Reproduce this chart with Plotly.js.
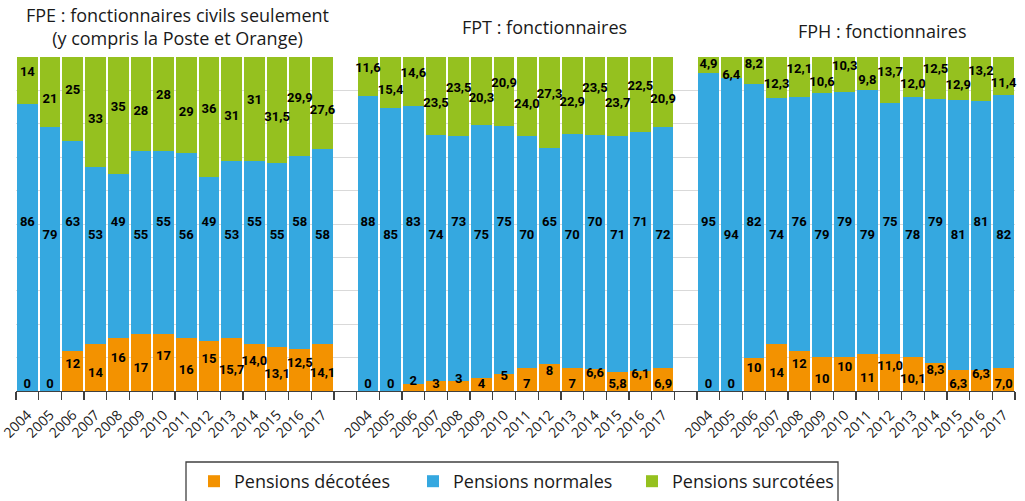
<!DOCTYPE html>
<html>
<head>
<meta charset="utf-8">
<script src="https://cdn.plot.ly/plotly-3.0.1.min.js"></script>
<style>html,body{margin:0;padding:0;background:#fff;}#chart{width:1025px;height:501px;}</style>
</head>
<body>
<div id="chart"></div>
<script>
// ---- Data ----
const years = ['2004','2005','2006','2007','2008','2009','2010','2011','2012','2013','2014','2015','2016','2017'];
const panelTitles = ['FPE : fonctionnaires civils seulement<br>(y compris la Poste et Orange)', 'FPT : fonctionnaires', 'FPH : fonctionnaires'];
const seriesNames = ['Pensions décotées', 'Pensions normales', 'Pensions surcotées'];

const fpeDecote  = [0, 0, 12, 14, 16, 17, 17, 16, 15, 15.7, 14.0, 13.1, 12.5, 14.1];
const fpeNormale = [86, 79, 63, 53, 49, 55, 55, 56, 49, 53, 55, 55, 58, 58];
const fpeSurcote = [14, 21, 25, 33, 35, 28, 28, 29, 36, 31, 31, 31.5, 29.9, 27.6];

const fptDecote  = [0, 0, 2, 3, 3, 4, 5, 7, 8, 7, 6.6, 5.8, 6.1, 6.9];
const fptNormale = [88, 85, 83, 74, 73, 75, 75, 70, 65, 70, 70, 71, 71, 72];
const fptSurcote = [11.6, 15.4, 14.6, 23.5, 23.5, 20.3, 20.9, 24.0, 27.3, 22.9, 23.5, 23.7, 22.5, 20.9];

const fphDecote  = [0, 0, 10, 14, 12, 10, 10, 11, 11.0, 10.1, 8.3, 6.3, 6.3, 7.0];
const fphNormale = [95, 94, 82, 74, 76, 79, 79, 79, 75, 78, 79, 81, 81, 82];
const fphSurcote = [4.9, 6.4, 8.2, 12.3, 12.1, 10.6, 10.3, 9.8, 13.7, 12.0, 12.5, 12.9, 13.2, 11.4];

// index of first year whose label is printed with one decimal (label format only)
const fpeDecimalsFrom = [9, 99, 11];
const fptDecimalsFrom = [10, 99, 0];
const fphDecimalsFrom = [8, 99, 0];

// ---- Build ----
const colors = ['#F39200', '#35A8E0', '#95C11F'];
const panels = [
  {vals: [fpeDecote, fpeNormale, fpeSurcote], dec: fpeDecimalsFrom},
  {vals: [fptDecote, fptNormale, fptSurcote], dec: fptDecimalsFrom},
  {vals: [fphDecote, fphNormale, fphSurcote], dec: fphDecimalsFrom}
];
const slot = years.length + 1;
const fmt = (v, d) => v.toFixed(d).replace('.', ',');

const xs = [], ys = [[], [], []], txt = [[], [], []], labY = [[], [], []];
const tickvals = [], ticktext = [];
panels.forEach((p, pi) => {
  years.forEach((yr, i) => {
    const x = pi * slot + i;
    xs.push(x); tickvals.push(x); ticktext.push(yr);
    const tot = p.vals[0][i] + p.vals[1][i] + p.vals[2][i];
    const n = p.vals.map(a => a[i] / tot * 100);
    const alt = (i % 2 === 0) ? 1 : -1;
    for (let s = 0; s < 3; s++) {
      ys[s].push(p.vals[s][i]);
      txt[s].push(fmt(p.vals[s][i], i >= p.dec[s] ? 1 : 0));
    }
    // label placement: staggered around the segment centre so neighbours do not collide
    labY[0].push(n[0] === 0 ? 1.9 : Math.max(n[0] / 2 + alt * 1.8, 1.9));
    labY[1].push(alt > 0 ? 50.4 : 46.4);
    labY[2].push(Math.min(100 - n[2] / 2 + alt * 2.3, 97.6));
  });
});
const minorVals = [];
for (let k = -0.5; k <= 3 * slot - 1.5; k += 1) minorVals.push(k);

const traces = [];
for (let s = 0; s < 3; s++) {
  traces.push({
    type: 'bar', x: xs, y: ys[s], name: seriesNames[s],
    marker: {color: colors[s], line: {width: 0}},
    hoverinfo: 'skip'
  });
}
for (let s = 0; s < 3; s++) {
  traces.push({
    type: 'scatter', mode: 'text', x: xs, y: labY[s], text: txt[s],
    textposition: 'middle center', showlegend: false, hoverinfo: 'skip', cliponaxis: false,
    textfont: {family: 'Roboto, DejaVu Sans Condensed, sans-serif', size: 13, color: '#000', weight: 700}
  });
}

const W = 1025, H = 501;
const px = v => v / W, py = v => 1 - v / H;
const baseFont = 'Open Sans, Noto Sans, sans-serif';
const titleFont = {family: baseFont, size: 18, color: '#1a1a1a'};

const layout = {
  width: W, height: H,
  margin: {l: 0, r: 0, t: 0, b: 0, autoexpand: false},
  paper_bgcolor: '#fff', plot_bgcolor: '#fff',
  barmode: 'stack', barnorm: 'percent', bargap: 0.09,
  showlegend: true,
  legend: {
    orientation: 'h', x: px(194), xanchor: 'left', y: py(463), yanchor: 'top',
    font: {family: baseFont, size: 18, color: '#1a1a1a'},
    entrywidth: 174, entrywidthmode: 'pixels', itemwidth: 30, traceorder: 'normal',
    bgcolor: 'rgba(0,0,0,0)', borderwidth: 0
  },
  xaxis: {
    domain: [px(16), px(1015)], range: [-0.5, 3 * slot - 1.5],
    tickmode: 'array', tickvals: tickvals, ticktext: ticktext, ticks: '',
    tickangle: -45, autotickangles: [-45], ticklabelstandoff: 9, ticklabeloverflow: 'allow',
    tickfont: {family: baseFont, size: 14, color: '#1a1a1a'},
    showline: true, linecolor: '#404040', linewidth: 1.3, showgrid: false, zeroline: false,
    minor: {tickmode: 'array', tickvals: minorVals, ticks: 'outside', ticklen: 8, tickcolor: '#404040', tickwidth: 1.3, showgrid: false},
    fixedrange: true
  },
  yaxis: {
    domain: [py(391), py(57)], range: [0, 100], dtick: 10, tick0: 0,
    showticklabels: false, ticks: '', showgrid: true, gridcolor: '#d9d9d9', gridwidth: 1,
    zeroline: false, showline: false, fixedrange: true
  },
  annotations: [
    {text: panelTitles[0], xref: 'paper', yref: 'paper', x: px(177), y: py(27), xanchor: 'center', yanchor: 'middle', showarrow: false, font: titleFont},
    {text: panelTitles[1], xref: 'paper', yref: 'paper', x: px(544), y: py(27), xanchor: 'center', yanchor: 'middle', showarrow: false, font: titleFont},
    {text: panelTitles[2], xref: 'paper', yref: 'paper', x: px(882), y: py(31), xanchor: 'center', yanchor: 'middle', showarrow: false, font: titleFont}
  ],
  shapes: [
    {type: 'rect', xref: 'paper', yref: 'paper', x0: px(186), x1: px(838), y0: py(462), y1: py(530), line: {color: '#404040', width: 1.3}, fillcolor: 'rgba(0,0,0,0)'}
  ]
};

Plotly.newPlot('chart', traces, layout, {staticPlot: true, displayModeBar: false});
</script>
</body>
</html>
